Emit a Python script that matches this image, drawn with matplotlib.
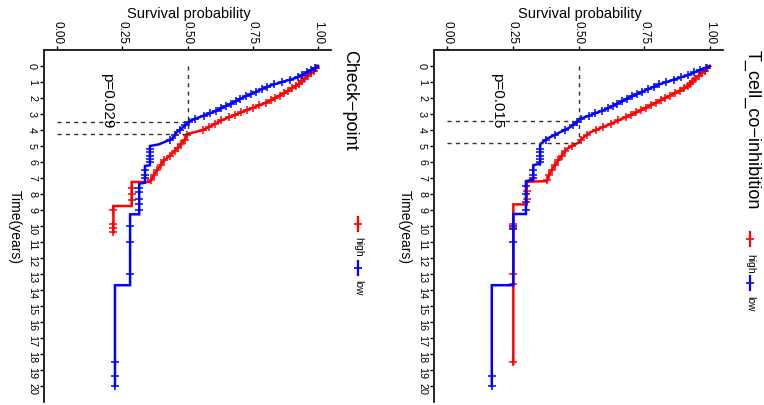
import numpy as np
import matplotlib.pyplot as plt

plt.rcParams['font.family'] = ['Liberation Sans', 'DejaVu Sans']

# panel info
titles = ['Check\u2212point', 'T_cell_co\u2212inhibition']
p_texts = ['p=0.029', 'p=0.015']
groups = ['high', 'low']
group_colors = ['#FF0000', '#0000FF']

# Check-point panel: KM curves (time in years, survival)
cp_high_time = [0, 0.3, 0.7, 1.2, 1.7, 2.2, 2.8, 3.4, 4.0, 4.25, 4.6, 4.9, 5.4, 6.0, 6.6, 7.25, 7.25, 8.75, 8.75, 10.4]
cp_high_surv = [1.0, 0.985, 0.955, 0.92, 0.87, 0.815, 0.72, 0.63, 0.56, 0.50, 0.49, 0.475, 0.445, 0.405, 0.38, 0.355, 0.286, 0.286, 0.216, 0.216]
cp_low_time = [0, 0.3, 0.73, 1.23, 1.96, 2.79, 3.42, 3.73, 4.15, 4.56, 4.9, 5.0, 6.2, 6.25, 7.3, 7.35, 9.27, 9.27, 13.7, 13.7, 20.0]
cp_low_surv = [1.0, 0.97, 0.918, 0.816, 0.714, 0.612, 0.51, 0.49, 0.458, 0.44, 0.39, 0.356, 0.356, 0.337, 0.337, 0.315, 0.315, 0.28, 0.28, 0.222, 0.222]
cp_high_cens = [0.15, 0.3, 0.45, 0.6, 0.8, 0.95, 1.1, 1.25, 1.4, 1.55, 1.7, 1.85, 2.0, 2.15, 2.3, 2.45,
                2.6, 2.75, 2.9, 3.05, 3.2, 3.4, 3.6, 3.8, 4.0, 4.3, 4.6, 4.9, 5.1, 5.3, 5.6, 5.9, 6.2,
                6.5, 6.8, 7.1, 7.6, 8.0, 8.4, 9.0, 9.9, 10.1, 10.35]
cp_low_cens = [0.1, 0.25, 0.4, 0.55, 0.7, 0.85, 1.0, 1.15, 1.3, 1.45, 1.6, 1.75, 1.9, 2.05, 2.2, 2.35,
               2.5, 2.65, 2.8, 2.95, 3.1, 3.3, 3.5, 3.7, 4.0, 4.3, 4.6, 5.2, 5.4, 5.6, 5.8, 6.0, 6.5,
               6.8, 7.0, 7.6, 7.9, 8.3, 8.6, 9.0, 10.0, 11.0, 13.0, 18.5, 19.4, 20.0]
cp_medians = [4.25, 3.48]

# T_cell_co-inhibition panel
tc_high_time = [0, 0.3, 0.7, 1.33, 2.17, 3.0, 3.63, 4.15, 4.56, 4.79, 5.19, 5.9, 6.65, 7.2, 7.23, 8.65, 8.65, 18.6]
tc_high_surv = [1.0, 0.98, 0.95, 0.911, 0.81, 0.708, 0.62, 0.544, 0.512, 0.5, 0.455, 0.423, 0.392, 0.379, 0.303, 0.303, 0.252, 0.252]
tc_low_time = [0, 0.6, 1.13, 1.85, 2.69, 3.31, 3.42, 3.83, 4.35, 4.56, 4.9, 6.1, 6.2, 7.1, 7.2, 9.25, 9.25, 13.7, 13.7, 20.0]
tc_low_surv = [1.0, 0.911, 0.81, 0.708, 0.607, 0.506, 0.5, 0.468, 0.404, 0.379, 0.354, 0.354, 0.328, 0.328, 0.30, 0.30, 0.252, 0.252, 0.17, 0.17]
tc_high_cens = [0.15, 0.3, 0.45, 0.6, 0.8, 0.95, 1.1, 1.25, 1.4, 1.55, 1.7, 1.85, 2.0, 2.15, 2.3, 2.45,
                2.6, 2.75, 2.9, 3.05, 3.2, 3.4, 3.6, 3.8, 4.0, 4.3, 4.6, 5.0, 5.3, 5.6, 5.9, 6.2, 6.5,
                6.8, 7.1, 7.8, 8.3, 9.9, 10.1, 13.0, 13.6, 18.5]
tc_low_cens = [0.1, 0.25, 0.4, 0.55, 0.7, 0.85, 1.0, 1.15, 1.3, 1.45, 1.6, 1.75, 1.9, 2.05, 2.2, 2.35,
               2.5, 2.65, 2.8, 2.95, 3.1, 3.3, 3.5, 3.7, 4.0, 4.3, 4.6, 5.2, 5.4, 5.6, 5.8, 6.0, 6.5,
               6.8, 7.0, 7.5, 8.0, 8.5, 9.0, 10.0, 10.2, 11.0, 19.4, 20.0]
tc_medians = [4.79, 3.42]

surv_ticks = [0.0, 0.25, 0.5, 0.75, 1.0]
surv_ticklabels = ['0.00', '0.25', '0.50', '0.75', '1.00']
time_ticks = list(range(0, 21))

panels = [
    dict(curves=[(cp_high_time, cp_high_surv, cp_high_cens), (cp_low_time, cp_low_surv, cp_low_cens)],
         medians=cp_medians),
    dict(curves=[(tc_high_time, tc_high_surv, tc_high_cens), (tc_low_time, tc_low_surv, tc_low_cens)],
         medians=tc_medians),
]

W, H = 764, 406
fig = plt.figure(figsize=(W / 100, H / 100), dpi=100)

# axes boxes in pixels: left, top, right, bottom  (the chart is turned a quarter clockwise)
boxes = [(44, 51, 331, 403), (434, 51, 723, 403)]
title_x = [350, 752]
legend_x = [358, 750]
legend_y = [(225, 245, 269, 288), (240, 262, 284, 304)]


def fx(px):
    return px / W


def fy(py):
    return 1 - py / H


for i, (panel, box) in enumerate(zip(panels, boxes)):
    l, t, r, b = box
    ax = fig.add_axes([fx(l), fy(b), fx(r - l), (b - t) / H])
    ax.set_xlim(-0.05, 1.05)
    ax.set_ylim(21, -1)

    for (tm, sv, cens), col in zip(panel['curves'], group_colors):
        ax.plot(sv, tm, color=col, lw=1.8, solid_joinstyle='miter')
        cs = np.interp(cens, tm, sv)
        ax.plot(cs, cens, ls='none', marker='+', ms=5.5, mew=1.1, color=col)

    # median lines
    med = panel['medians']
    ax.plot([0.5, 0.5], [0, max(med)], ls=(0, (3, 3)), color='#333333', lw=1.0)
    for m in med:
        ax.plot([0, 0.5], [m, m], ls=(0, (3, 3)), color='#333333', lw=1.0)

    ax.text(0.19, 0.35, p_texts[i], rotation=-90, rotation_mode='anchor',
            ha='left', va='center', fontsize=11)

    for s in ['right', 'bottom']:
        ax.spines[s].set_visible(False)
    for s in ['left', 'top']:
        ax.spines[s].set_linewidth(1.2)
    ax.xaxis.tick_top()
    ax.set_xticks(surv_ticks)
    ax.set_xticklabels(surv_ticklabels, rotation=-90, fontsize=8.5)
    ax.set_yticks(time_ticks)
    ax.set_yticklabels([str(v) for v in time_ticks], rotation=-90, fontsize=7.8)
    ax.tick_params(length=3, width=1, pad=2, colors='black')

    # axis labels
    mid = (l + r) / 2
    fig.text(fx(mid + 1), fy(14), 'Survival probability', ha='center', va='center', fontsize=10.5)
    fig.text(fx(l - 29), fy((t + b) / 2), 'Time(years)', rotation=-90, rotation_mode='anchor',
             ha='center', va='center', fontsize=10)

    # title on the right side
    fig.text(fx(title_x[i]), fy(50), titles[i], rotation=-90, rotation_mode='anchor',
             ha='left', va='center', fontsize=13)

    # legend keys
    lx = legend_x[i]
    k1, t1, k2, t2 = legend_y[i]
    for (ky, ty), col, name in zip([(k1, t1), (k2, t2)], group_colors, groups):
        fig.add_artist(plt.Line2D([fx(lx), fx(lx)], [fy(ky - 7), fy(ky + 7)],
                                  transform=fig.transFigure, color=col, lw=1.6))
        fig.add_artist(plt.Line2D([fx(lx)], [fy(ky)], transform=fig.transFigure,
                                  marker='+', ms=6, mew=1.2, color=col))
        fig.text(fx(lx), fy(ty - 8), name, rotation=-90, rotation_mode='anchor',
                 ha='left', va='center', fontsize=7.5)

fig.savefig('out.png', dpi=100, facecolor='white')
